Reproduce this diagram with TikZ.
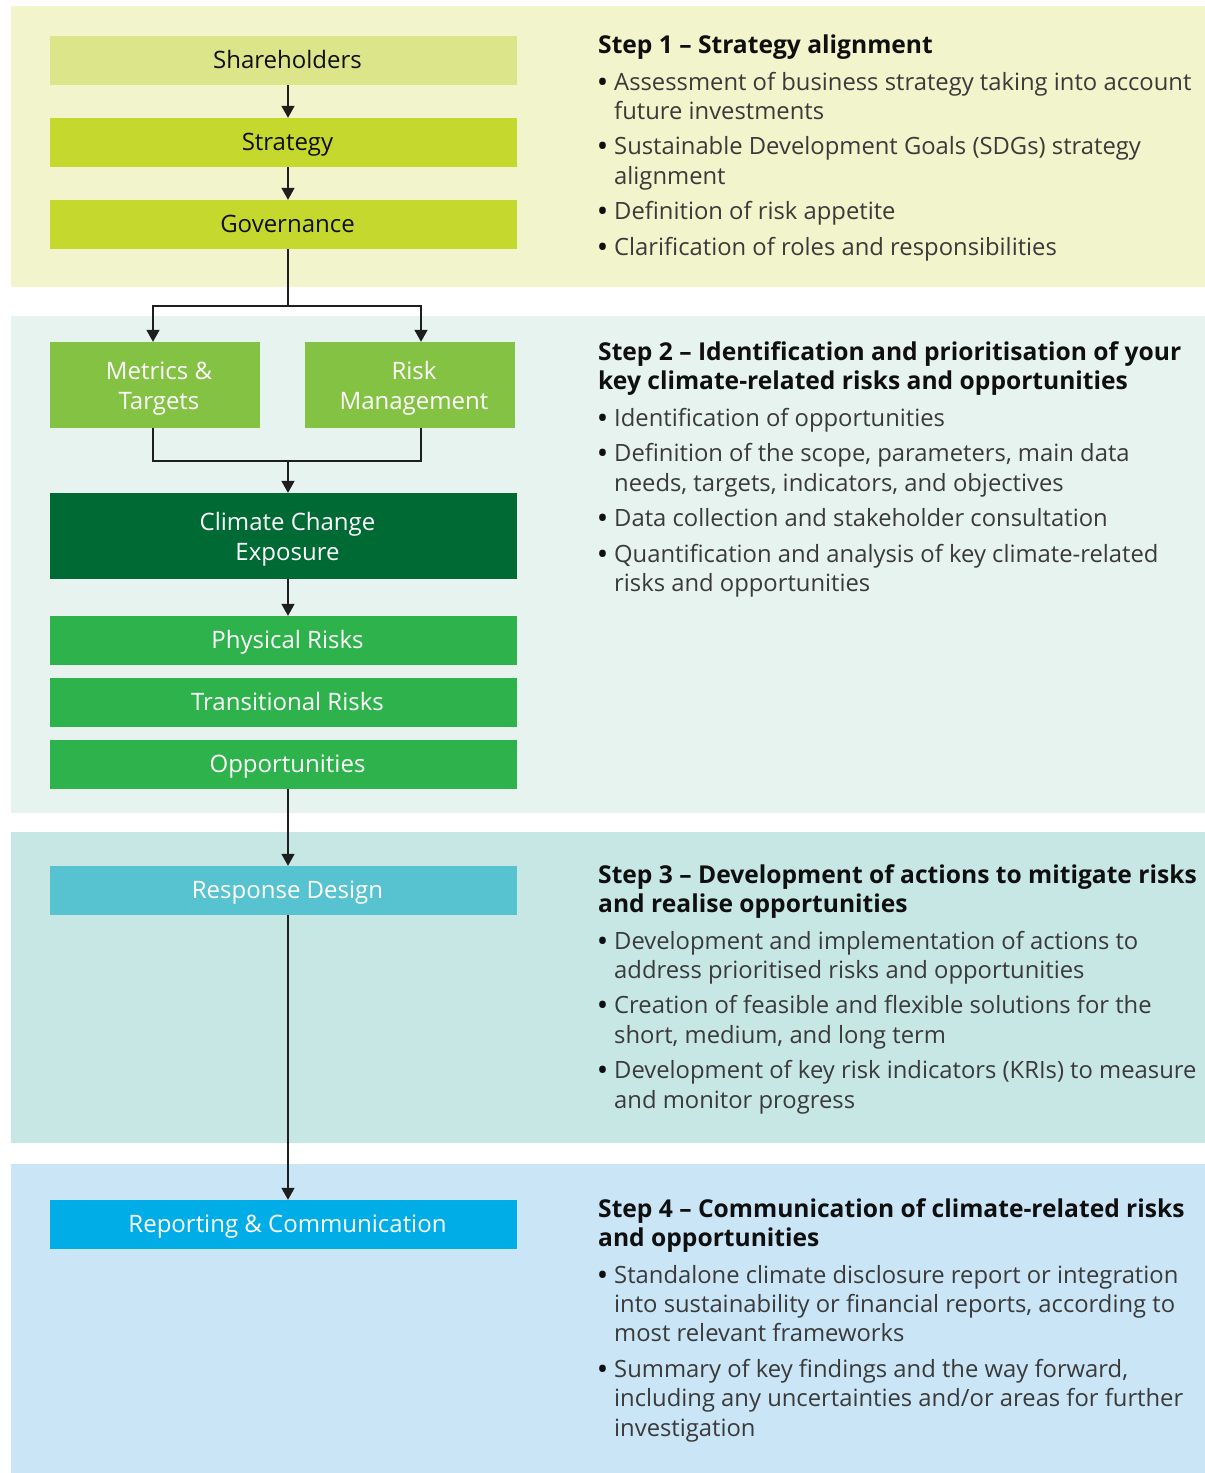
\documentclass[tikz,border=0pt]{standalone}
\usepackage{fontspec}
\setmainfont{Open Sans}
\usetikzlibrary{arrows.meta}
\definecolor{bandA}{HTML}{F2F4CB}
\definecolor{bandB}{HTML}{E6F3EF}
\definecolor{bandC}{HTML}{C6E7E4}
\definecolor{bandD}{HTML}{C9E5F6}
\definecolor{cSh}{HTML}{DCE58A}
\definecolor{cSt}{HTML}{C4D82E}
\definecolor{cMt}{HTML}{84C243}
\definecolor{cCc}{HTML}{006A35}
\definecolor{cPr}{HTML}{2DB24C}
\definecolor{cRd}{HTML}{57C2D0}
\definecolor{cRc}{HTML}{00ADE7}
\definecolor{hdcol}{HTML}{0F0F0F}
\definecolor{bodycol}{HTML}{3A3A3A}
\definecolor{lncol}{HTML}{1E1E1E}
\newcommand\tsh{\hspace*{8pt}}
\newcommand\bul{\makebox[16pt][l]{\textbf{\color{hdcol}•}}}
\newcommand\ind{\hspace*{16pt}}
\newcommand\hdl[1]{{\fontsize{24.6}{29.4}\selectfont\bfseries\color{hdcol}#1}}
\begin{document}
\begin{tikzpicture}[x=1pt,y=-1pt,
  boxbase/.style={rectangle,inner sep=0pt,draw=none,minimum width=467pt,
    font=\fontsize{24}{30}\selectfont},
  boxone/.style={boxbase,minimum height=49pt,text height=21pt,text depth=6pt},
  boxtwo/.style={boxbase,minimum height=86pt,align=center},
  darktxt/.style={text=hdcol},
  lighttxt/.style={text=white},
  ln/.style={draw=lncol,line width=1.6pt},
  arr/.style={ln,-{Triangle[width=13pt,length=12pt]}},
  steptext/.style={anchor=north west,inner sep=0pt,align=left,text=bodycol,
    font=\fontsize{23.8}{29.4}\selectfont}
]
\useasboundingbox (0,0) rectangle (1205,1473);
% bands
\fill[bandA] (11,6) rectangle (1205,287);
\fill[bandB] (11,316) rectangle (1205,813);
\fill[bandC] (11,832) rectangle (1205,1143);
\fill[bandD] (11,1164) rectangle (1205,1473);

% boxes
\node[boxone,fill=cSh,darktxt] (sh) at (283.5,60.5) {\tsh Shareholders};
\node[boxone,fill=cSt,darktxt] (st) at (283.5,142.5) {\tsh Strategy};
\node[boxone,fill=cSt,darktxt] (gov) at (283.5,224.5) {\tsh Governance};
\node[boxtwo,fill=cMt,lighttxt,minimum width=210pt] (mt) at (155,385)
  {\rule{0pt}{24pt}\tsh Metrics \&\\\tsh Targets\rule[-6pt]{0pt}{6pt}};
\node[boxtwo,fill=cMt,lighttxt,minimum width=210pt] (rm) at (410,385)
  {\rule{0pt}{24pt}\tsh Risk\\\tsh Management\rule[-6pt]{0pt}{6pt}};
\node[boxtwo,fill=cCc,lighttxt] (cce) at (283.5,536)
  {\rule{0pt}{24pt}\tsh Climate Change\\\tsh Exposure\rule[-6pt]{0pt}{6pt}};
\node[boxone,fill=cPr,lighttxt] (pr) at (283.5,640.5) {\tsh Physical Risks};
\node[boxone,fill=cPr,lighttxt] (tr) at (283.5,702.5) {\tsh Transitional Risks};
\node[boxone,fill=cPr,lighttxt] (op) at (283.5,764.5) {\tsh Opportunities};
\node[boxone,fill=cRd,lighttxt] (rd) at (283.5,890.5) {\tsh Response Design};
\node[boxone,fill=cRc,lighttxt] (rc) at (283.5,1224.5) {\tsh Reporting \& Communication};

% helper coordinates
\coordinate (ax) at (288,0);
\coordinate (aL) at (153,0);
\coordinate (aR) at (421,0);
\coordinate (j1) at (288,306);
\coordinate (j2) at (288,461);

% connectors
\draw[arr] (sh.south -| ax) -- (st.north -| ax);
\draw[arr] (st.south -| ax) -- (gov.north -| ax);
\draw[ln] (gov.south -| ax) -- (j1);
\draw[arr] (j1) -| (mt.north -| aL);
\draw[arr] (j1) -| (rm.north -| aR);
\draw[ln] (mt.south -| aL) |- (j2) -| (rm.south -| aR);
\draw[arr] (j2) -- (cce.north -| ax);
\draw[arr] (cce.south -| ax) -- (pr.north -| ax);
\draw[arr] (op.south -| ax) -- (rd.north -| ax);
\draw[arr] (rd.south -| ax) -- (rc.north -| ax);

% step texts
\node[steptext] (s1) at (598,33) {%
\rule{0pt}{20pt}\hdl{Step 1 – Strategy alignment}\\[7.5pt]
\bul Assessment of business strategy taking into account\\
\ind future investments\\[6pt]
\bul Sustainable Development Goals (SDGs) strategy\\
\ind alignment\\[6pt]
\bul Definition of risk appetite\\[6pt]
\bul Clarification of roles and responsibilities};

\node[steptext] (s2) at (598,340) {%
\rule{0pt}{20pt}\hdl{Step 2 – Identification and prioritisation of your}\\
\hdl{key climate-related risks and opportunities}\\[7.5pt]
\bul Identification of opportunities\\[6pt]
\bul Definition of the scope, parameters, main data\\
\ind needs, targets, indicators, and objectives\\[6pt]
\bul Data collection and stakeholder consultation\\[6pt]
\bul Quantification and analysis of key climate-related\\
\ind risks and opportunities};

\node[steptext] (s3) at (598,863) {%
\rule{0pt}{20pt}\hdl{Step 3 – Development of actions to mitigate risks}\\
\hdl{and realise opportunities}\\[7pt]
\bul Development and implementation of actions to\\
\ind address prioritised risks and opportunities\\[6pt]
\bul Creation of feasible and flexible solutions for the\\
\ind short, medium, and long term\\[6pt]
\bul Development of key risk indicators (KRIs) to measure\\
\ind and monitor progress};

\node[steptext] (s4) at (598,1197) {%
\rule{0pt}{20pt}\hdl{Step 4 – Communication of climate-related risks}\\
\hdl{and opportunities}\\[7pt]
\bul Standalone climate disclosure report or integration\\
\ind into sustainability or financial reports, according to\\
\ind most relevant frameworks\\[6pt]
\bul Summary of key findings and the way forward,\\
\ind including any uncertainties and/or areas for further\\
\ind investigation};
\end{tikzpicture}
\end{document}
